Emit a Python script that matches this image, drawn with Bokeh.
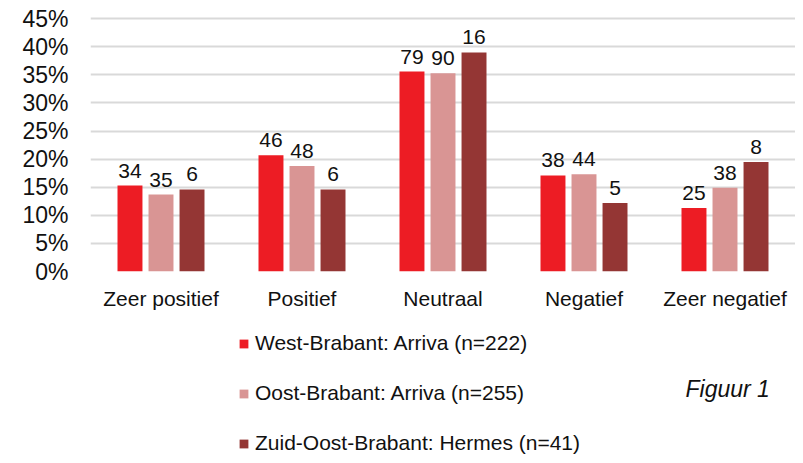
from bokeh.plotting import figure
from bokeh.models import (FactorRange, Range1d, FixedTicker, Legend, LegendItem,
                          ColumnDataSource, Label)
from bokeh.layouts import column
from bokeh.transform import dodge
from bokeh.core.properties import value
from bokeh.embed import file_html
from bokeh.resources import INLINE

categories = ["Zeer positief", "Positief", "Neutraal", "Negatief", "Zeer negatief"]
series_names = ["West-Brabant: Arriva (n=222)", "Oost-Brabant: Arriva (n=255)",
                "Zuid-Oost-Brabant: Hermes (n=41)"]
west_pct = [15.3, 20.7, 35.6, 17.1, 11.3]
oost_pct = [13.7, 18.8, 35.3, 17.3, 14.9]
zuid_pct = [14.6, 14.6, 39.0, 12.2, 19.5]
west_n = [34, 46, 79, 38, 25]
oost_n = [35, 48, 90, 44, 38]
zuid_n = [6, 6, 16, 5, 8]
y_ticks = [0, 5, 10, 15, 20, 25, 30, 35, 40, 45]

colors = ["#ED1C24", "#D99594", "#943634"]
FONT = "Liberation Sans"
FS = "21px"
TXT = "#111111"

src = ColumnDataSource(dict(
    cat=categories,
    w=west_pct, o=oost_pct, z=zuid_pct,
    wl=[str(v) for v in west_n], ol=[str(v) for v in oost_n], zl=[str(v) for v in zuid_n],
))

p = figure(width=795, height=315, output_backend="svg", toolbar_location=None,
           x_range=FactorRange(*categories, range_padding=0),
           y_range=Range1d(0, 45.4),
           min_border_left=90, min_border_right=0, min_border_top=16, min_border_bottom=44)
p.outline_line_color = None

offsets = [-0.22, 0.0, 0.22]
cols = ["w", "o", "z"]
lcols = ["wl", "ol", "zl"]
for off, c, lc, col in zip(offsets, cols, lcols, colors):
    p.vbar(x=dodge("cat", off, range=p.x_range), top=c, width=0.177, source=src,
           fill_color=col, line_color=None)
    p.text(x=dodge("cat", off, range=p.x_range), y=c, text=lc, source=src,
           text_align="center", text_baseline="alphabetic", y_offset=-15,
           text_font_size=FS, text_font=value(FONT), text_color=TXT)

p.yaxis.ticker = FixedTicker(ticks=y_ticks)
p.yaxis.major_label_overrides = {t: f"{t}%" for t in y_ticks}
for ax in (p.xaxis[0], p.yaxis[0]):
    ax.axis_line_color = None
    ax.major_tick_line_color = None
    ax.minor_tick_line_color = None
    ax.major_tick_out = 0
    ax.major_tick_in = 0
    ax.major_label_text_font = FONT
    ax.major_label_text_color = TXT
p.yaxis.major_label_text_font_size = "23px"
p.xaxis.major_label_text_font_size = FS
p.yaxis.major_label_standoff = 22
p.xaxis.major_label_standoff = 15

p.xgrid.grid_line_color = None
p.ygrid.grid_line_color = "#D9D9D9"
p.ygrid.grid_line_width = 2

# lower panel: legend and figure caption (frame is aligned with the chart frame, left edge x=90)
p2 = figure(width=795, height=140, output_backend="svg", toolbar_location=None,
            x_range=Range1d(0, 1), y_range=Range1d(0, 1),
            x_axis_type=None, y_axis_type=None,
            min_border_left=90, min_border_right=0, min_border_top=0, min_border_bottom=0)
p2.outline_line_color = None
p2.xgrid.grid_line_color = None
p2.ygrid.grid_line_color = None

# zero-height proxy bars, only used for the legend swatches
leg_renderers = [p2.vbar(x=[0], top=[0], bottom=[0], width=0.0, fill_color=col, line_color=None)
                 for col in colors]
legend = Legend(items=[LegendItem(label=n, renderers=[r]) for n, r in zip(series_names, leg_renderers)],
                location=(148, 0), orientation="vertical",
                glyph_width=11, glyph_height=11, label_height=24, spacing=26,
                label_standoff=6, padding=0, margin=0,
                border_line_color=None, background_fill_alpha=0,
                label_text_font=FONT, label_text_font_size=FS, label_text_color=TXT)
p2.add_layout(legend)

fig_label = Label(x=595, y=67, x_units="screen", y_units="screen", text="Figuur  1",
                  text_font=FONT, text_font_size="23px",
                  text_font_style="italic", text_baseline="middle", text_color=TXT)
p2.add_layout(fig_label)

layout = column(p, p2, spacing=0)
open("out.html", "w").write(file_html(layout, INLINE))
